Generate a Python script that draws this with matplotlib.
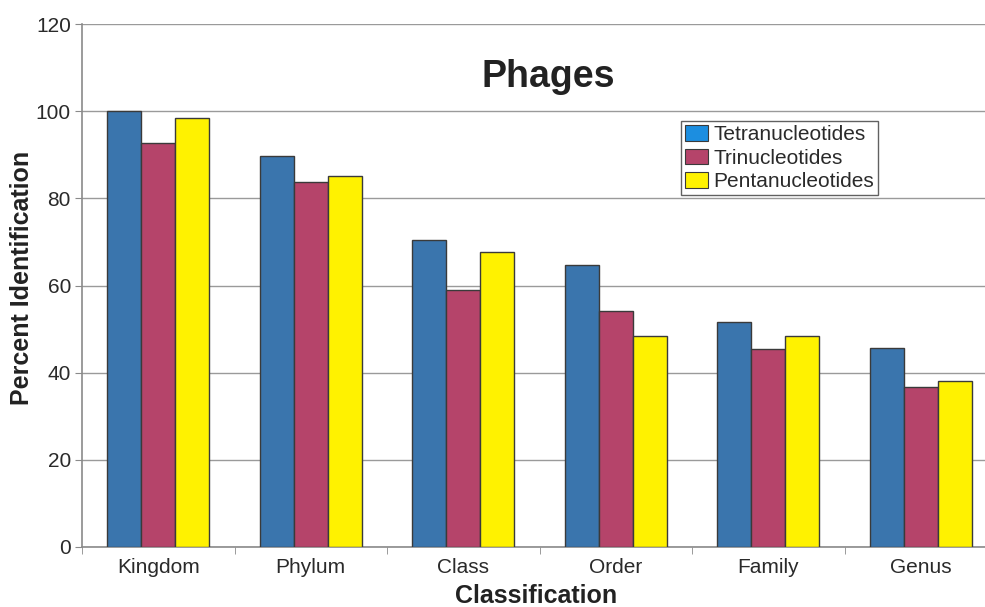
import matplotlib
matplotlib.use("Agg")
import matplotlib.pyplot as plt
import numpy as np
from matplotlib.patches import Patch

plt.rcParams['font.family'] = ['Liberation Sans', 'DejaVu Sans']

categories = ["Kingdom", "Phylum", "Class", "Order", "Family", "Genus"]
tetra = [100.0, 89.7, 70.4, 64.7, 51.6, 45.7]
tri = [92.6, 83.7, 59.0, 54.2, 45.5, 36.8]
penta = [98.4, 85.1, 67.6, 48.4, 48.4, 38.1]
series_names = ["Tetranucleotides", "Trinucleotides", "Pentanucleotides"]
bar_colors = ["#3a75ad", "#b5446a", "#fff200"]
legend_colors = ["#1c8ee0", "#b5446a", "#fff200"]

W, H = 985, 607
fig = plt.figure(figsize=(W/100, H/100), dpi=100)
ax_w = (997-82)/W
ax_h = (547-24)/H
ax = fig.add_axes([82/W, 1-547/H, ax_w, ax_h])

x = np.arange(len(categories))
bw = 0.223
for i, (vals, col) in enumerate(zip([tetra, tri, penta], bar_colors)):
    ax.bar(x + (i-1)*bw, vals, bw, color=col, edgecolor="#3a3a3a", linewidth=1.0, zorder=3)

ax.set_xlim(-0.5, len(categories)-0.5)
ax.set_ylim(0, 120)
ax.set_yticks(range(0, 121, 20))
ax.yaxis.grid(True, color="#9a9a9a", linewidth=1.0, zorder=0)
ax.set_xticks(x)
ax.set_xticklabels(categories, fontsize=15, color="#2a2a2a")
ax.set_xticks(np.arange(-0.5, len(categories), 1.0), minor=True)
ax.tick_params(axis='x', which='major', length=0, pad=8)
ax.tick_params(axis='x', which='minor', length=5, color="#8a8a8a", direction='out')
ax.tick_params(axis='y', labelsize=15, labelcolor="#2a2a2a", length=5, color="#8a8a8a", pad=3)
for s in ["top", "right"]:
    ax.spines[s].set_visible(False)
for s in ["left", "bottom"]:
    ax.spines[s].set_color("#8a8a8a")
    ax.spines[s].set_linewidth(1.2)

ax.set_xlabel("Classification", fontsize=18, fontweight="bold", color="#222222")
ax.set_ylabel("Percent Identification", fontsize=18, fontweight="bold", color="#222222")
ax.xaxis.set_label_coords((536-82)/(997-82), (547-596)/(547-24))
ax.yaxis.set_label_coords((22-82)/(997-82), (547-278)/(547-24))
ax.xaxis.label.set_va("center")
ax.yaxis.label.set_va("center")

fig.text(548/W, 1-77/H, "Phages", fontsize=27, fontweight="bold", color="#222222", ha="center", va="center")

handles = [Patch(facecolor=c, edgecolor="#3a3a3a", linewidth=0.8) for c in legend_colors]
leg = ax.legend(handles, series_names, loc="upper left", bbox_to_anchor=((681-82)/(997-82), 1-(121-24)/(547-24)),
                fontsize=15, frameon=True, fancybox=False, edgecolor="#3a3a3a", borderpad=0.2,
                handlelength=1.1, handleheight=0.8, handletextpad=0.25, labelspacing=0.2, borderaxespad=0)
leg.get_frame().set_linewidth(1.0)
for t in leg.get_texts():
    t.set_color("#2a2a2a")

fig.savefig("out.png", dpi=100)
